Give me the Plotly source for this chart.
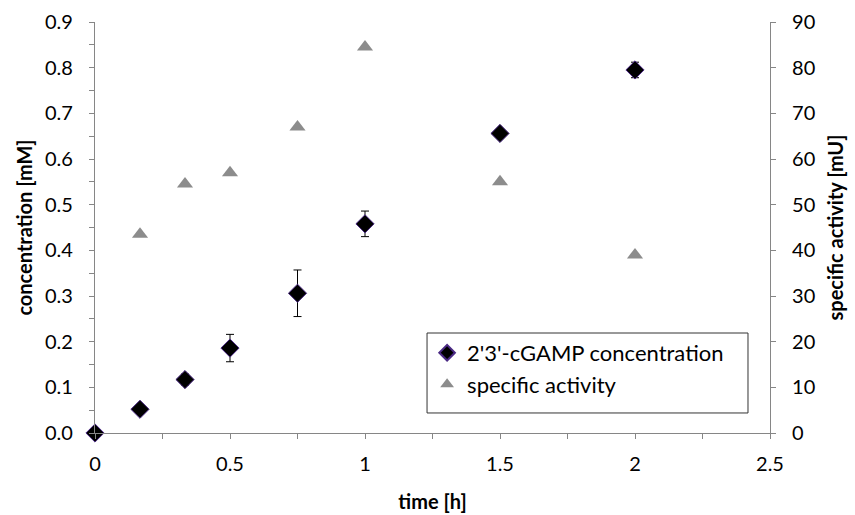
import plotly.graph_objects as go

time_h = [0, 1/6, 1/3, 0.5, 0.75, 1.0, 1.5, 2.0]
conc_mM = [0.0, 0.052, 0.117, 0.186, 0.306, 0.458, 0.656, 0.795]
conc_err = [0.0, 0.004, 0.012, 0.030, 0.051, 0.028, 0.006, 0.017]

act_time_h = [1/6, 1/3, 0.5, 0.75, 1.0, 1.5, 2.0]
activity_mU = [43.5, 54.5, 57.0, 67.0, 84.5, 55.0, 39.0]

FONT = "Lato"

fig = go.Figure()
fig.add_trace(go.Scatter(
    x=time_h, y=conc_mM, mode="markers", name="2'3'-cGAMP concentration",
    marker=dict(symbol="diamond", size=14, color="black",
                line=dict(color="#4B2A84", width=1)),
    error_y=dict(type="data", array=conc_err, visible=True,
                 color="black", thickness=1, width=4),
    cliponaxis=False,
))
fig.add_trace(go.Scatter(
    x=act_time_h, y=activity_mU, mode="markers", name="specific activity",
    marker=dict(symbol="triangle-up", size=14, color="#8C8C8C"),
    yaxis="y2", cliponaxis=False,
))

axis_common = dict(showgrid=False, zeroline=False, showline=True,
                   linecolor="#868686", linewidth=1.2, ticks="outside",
                   tickcolor="#868686", ticklen=5,
                   tickfont=dict(family=FONT, size=20, color="black"))

fig.update_layout(
    width=855, height=515,
    margin=dict(l=95, r=85, t=22, b=82),
    plot_bgcolor="white", paper_bgcolor="white",
    font=dict(family=FONT, color="black"),
    xaxis=dict(range=[0, 2.5], tickvals=[0, 0.5, 1, 1.5, 2, 2.5],
               ticktext=["0", "0.5", "1", "1.5", "2", "2.5"],
               minor=dict(dtick=0.25, ticks="outside", ticklen=5, tickcolor="#868686"),
               ticklabelstandoff=8, automargin=False,
               title=dict(text="<b>time [h]</b>", font=dict(family=FONT, size=20), standoff=20),
               **axis_common),
    yaxis=dict(range=[0, 0.9], tickvals=[i/10 for i in range(10)],
               ticktext=[f"{i/10:.1f}" for i in range(10)],
               minor=dict(dtick=0.05, ticks="outside", ticklen=5, tickcolor="#868686"),
               ticklabelstandoff=12, automargin=False,
               title=dict(text="<b>concentration [mM]</b>", font=dict(family=FONT, size=20), standoff=6),
               **axis_common),
    yaxis2=dict(range=[0, 90], tickvals=list(range(0, 91, 10)),
                overlaying="y", side="right",
                ticklabelstandoff=12, automargin=False,
                title=dict(text="<b>specific activity [mU]</b>", font=dict(family=FONT, size=20), standoff=14),
                **axis_common),
    legend=dict(x=0.492, y=0.246, xanchor="left", yanchor="top",
                borderwidth=0, bgcolor="rgba(0,0,0,0)",
                font=dict(family=FONT, size=22), itemsizing="constant"),
    shapes=[dict(type="rect", xref="paper", yref="paper",
                 x0=0.4919, x1=0.9674, y0=0.0487, y1=0.2433,
                 line=dict(color="#333333", width=1), fillcolor="white",
                 layer="above")],
    showlegend=True,
)

fig.write_html("out.html")
